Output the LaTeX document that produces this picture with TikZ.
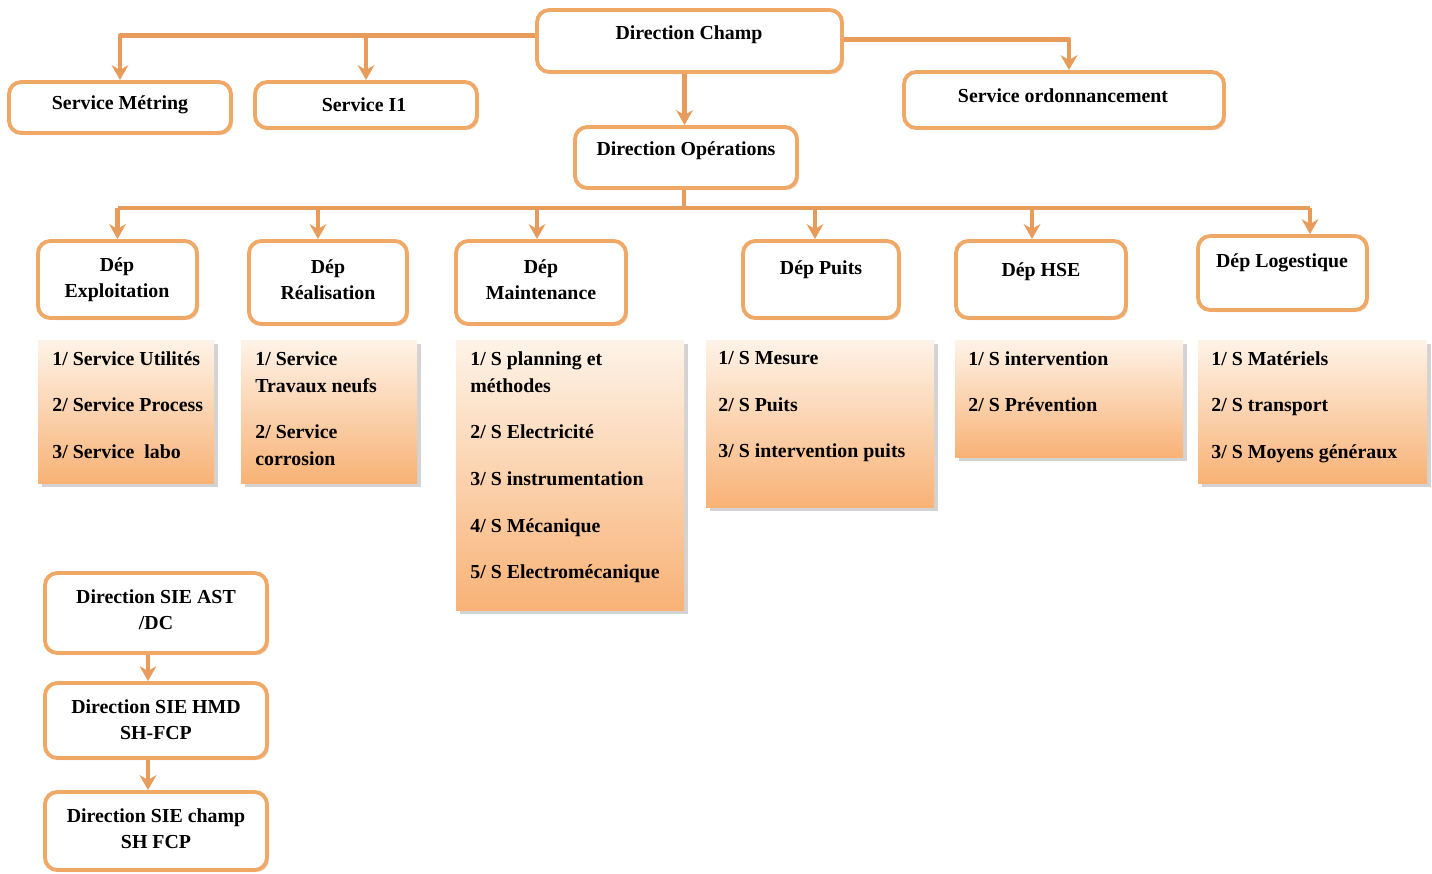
\documentclass[tikz,border=0pt]{standalone}
\usepackage{fontspec}
\setmainfont{Liberation Serif}
\usetikzlibrary{arrows.meta,fit,shadows}
\definecolor{lineor}{RGB}{232,156,92}
\definecolor{boxor}{RGB}{240,168,102}
\definecolor{gradtop}{RGB}{254,243,232}
\definecolor{gradbot}{RGB}{248,178,118}
\tikzset{
  box/.style={draw=boxor, line width=2.2pt, rounded corners=7pt, fill=white, inner sep=0pt,
    drop shadow={shadow xshift=1.2pt, shadow yshift=-1.2pt, opacity=0.25, fill=boxor!80!black}},
  subbox/.style={draw=none, inner sep=0pt, top color=gradtop, bottom color=gradbot,
    drop shadow={shadow xshift=2pt, shadow yshift=-2pt, opacity=0.35, fill=gray}},
  lbl/.style={font=\bfseries\fontsize{11.3}{15}\selectfont, align=center, inner sep=0pt},
  sublbl/.style={font=\bfseries\fontsize{11.3}{15.3}\selectfont, align=left, inner sep=0pt, anchor=north west},
  conn/.style={draw=lineor, line width=2.8pt, line join=round},
  arr/.style={conn, -{Stealth[length=8.5pt,width=9.5pt]}},
}
\begin{document}
\begin{tikzpicture}[x=0.02cm, y=-0.02cm]
\useasboundingbox (0,0) rectangle (1432,873);
% top level
\node[box, fit={(537,10) (842,72)}] (champ) {};
\node[lbl] (champT) at (689,35) {Direction Champ};
\node[box, fit={(9,82) (231,133)}] (metring) {};
\node[lbl] (metringT) at (120,105) {Service Métring};
\node[box, fit={(255,82) (477,128)}] (i1) {};
\node[lbl] (i1T) at (364,105) {Service I1};
\node[box, fit={(904,72) (1224,128)}] (ordo) {};
\node[lbl] (ordoT) at (1063,96) {Service ordonnancement};
\node[box, fit={(575,127) (797,188)}] (dirop) {};
\node[lbl] (diropT) at (686,151) {Direction Opérations};
% departments
\node[box, fit={(38,241) (197,318)}] (expl) {};
\node[lbl] (explT) at (117,280) {Dép\\Exploitation};
\node[box, fit={(249,241) (407,324)}] (real) {};
\node[lbl] (realT) at (328,280) {Dép\\Réalisation};
\node[box, fit={(456,241) (626,324)}] (maint) {};
\node[lbl] (maintT) at (541,280) {Dép\\Maintenance};
\node[box, fit={(743,241) (899,318)}] (puits) {};
\node[lbl] (puitsT) at (821,270) {Dép Puits};
\node[box, fit={(956,241) (1126,318)}] (hse) {};
\node[lbl] (hseT) at (1041,272) {Dép HSE};
\node[box, fit={(1198,236) (1367,310)}] (logi) {};
\node[lbl] (logiT) at (1282,263) {Dép Logestique};
% sub boxes
\node[subbox, fit={(38,340) (214,483)}] (sexpl) {};
\node[sublbl] (sexplT) at (52,351) {1/ Service Utilités\\[11.3pt]2/ Service Process\\[11.3pt]3/ Service\ \ labo};
\node[subbox, fit={(241,340) (417,483)}] (sreal) {};
\node[sublbl] (srealT) at (255,351) {1/ Service\\Travaux neufs\\[11.3pt]2/ Service\\corrosion};
\node[subbox, fit={(456,340) (684,610)}] (smaint) {};
\node[sublbl] (smaintT) at (470,351) {1/ S planning et\\méthodes\\[11.3pt]2/ S Electricité\\[11.3pt]3/ S instrumentation\\[11.3pt]4/ S Mécanique\\[11.3pt]5/ S Electromécanique};
\node[subbox, fit={(706,340) (934,507)}] (spuits) {};
\node[sublbl] (spuitsT) at (718,351) {1/ S Mesure\\[11.3pt]2/ S Puits\\[11.3pt]3/ S intervention puits};
\node[subbox, fit={(955,340) (1183,457)}] (shse) {};
\node[sublbl] (shseT) at (968,351) {1/ S intervention\\[11.3pt]2/ S Prévention};
\node[subbox, fit={(1198,340) (1427,483)}] (slogi) {};
\node[sublbl] (slogiT) at (1211,351) {1/ S Matériels\\[11.3pt]2/ S transport\\[11.3pt]3/ S Moyens généraux};
% bottom-left chain
\node[box, fit={(45,573) (267,653)}] (sie1) {};
\node[lbl] (sie1T) at (156,610) {Direction SIE AST\\/DC};
\node[box, fit={(45,683) (267,758)}] (sie2) {};
\node[lbl] (sie2T) at (156,720) {Direction SIE HMD\\SH-FCP};
\node[box, fit={(45,792) (267,870)}] (sie3) {};
\node[lbl] (sie3T) at (156,829) {Direction SIE champ\\SH FCP};
% connectors top
\coordinate (champL) at ([yshift=3pt]champ.west);
\draw[arr] (champL) -| (metring.north);
\draw[arr] (i1.north |- champL) -- (i1.north);
\draw[arr] ([yshift=1pt]champ.east) -| ([xshift=0.1cm]ordo.north);
\draw[arr] ([xshift=-0.1cm]champ.south) -- ([xshift=-0.1cm]champ.south |- dirop.north);
% bus
\coordinate (bus) at (684,208);
\draw[conn] (bus |- dirop.south) -- (bus);
\coordinate (busR) at ([xshift=0.55cm]logi.north |- bus);
\draw[conn] (expl.north |- bus) -- (busR);
\draw[arr] (expl.north |- bus) -- (expl.north);
\draw[arr] ([xshift=-0.2cm]real.north |- bus) -- ([xshift=-0.2cm]real.north);
\draw[arr] ([xshift=-0.08cm]maint.north |- bus) -- ([xshift=-0.08cm]maint.north);
\draw[arr] ([xshift=-0.12cm]puits.north |- bus) -- ([xshift=-0.12cm]puits.north);
\draw[arr] ([xshift=-0.18cm]hse.north |- bus) -- ([xshift=-0.18cm]hse.north);
\draw[arr] (busR) -- ([xshift=0.55cm]logi.north);
% chain
\draw[arr] ([xshift=-0.16cm]sie1.south) -- ([xshift=-0.16cm]sie2.north);
\draw[arr] ([xshift=-0.16cm]sie2.south) -- ([xshift=-0.16cm]sie3.north);
\end{tikzpicture}
\end{document}
